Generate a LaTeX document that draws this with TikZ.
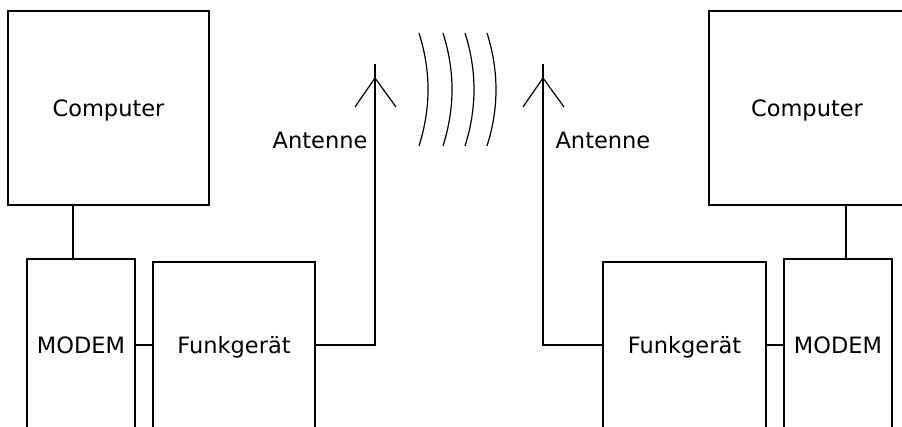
\documentclass[tikz,border=0pt]{standalone}
\usepackage{fontspec}
\setmainfont{DejaVu Sans}
\usepackage{tikz}
\usetikzlibrary{calc, positioning}

\begin{document}
\begin{tikzpicture}[x=1pt, y=1pt, line width=1.2pt, font=\fontsize{22.5}{27}\selectfont,
  unit/.style={draw, inner sep=0pt, text depth=0pt},
  antlabel/.style={inner sep=0pt}]
  \useasboundingbox (0,0) rectangle (902,426);
  \clip (0,0) rectangle (902,426);

  % Left station
  \node[unit, minimum width=201pt, minimum height=194pt] (compL) at (108.5, 318) {Computer};
  \node[unit, minimum width=108pt, minimum height=172pt] (modemL) at (81, 81) {MODEM};
  \node[unit, minimum width=162pt, minimum height=166pt] (funkL) at (234, 81) {Funkgerät};
  \coordinate (mastL) at (375, 362);
  \coordinate (tipL) at (375, 348);
  \coordinate (armL1) at ($(tipL)+(-20,-29)$);
  \coordinate (armL2) at ($(tipL)+(21,-29)$);
  \node[antlabel, anchor=east] (labL) at (368, 286) {Antenne};

  \draw ([xshift=-8pt]modemL.north) -- ([xshift=-8pt]modemL.north |- compL.south);
  \draw (modemL.east) -- (funkL.west);
  \draw (funkL.east) -| (mastL);
  \draw (armL1) -- (tipL) -- (armL2);

  % Right station
  \node[unit, minimum width=196pt, minimum height=194pt] (compR) at (807, 318) {Computer};
  \node[unit, minimum width=108pt, minimum height=172pt] (modemR) at (838, 81) {MODEM};
  \node[unit, minimum width=163pt, minimum height=166pt] (funkR) at (684.5, 81) {Funkgerät};
  \coordinate (mastR) at (543, 362);
  \coordinate (tipR) at (543, 348);
  \coordinate (armR1) at ($(tipR)+(-20,-29)$);
  \coordinate (armR2) at ($(tipR)+(21,-29)$);
  \node[antlabel, anchor=west] (labR) at (555, 286) {Antenne};

  \draw ([xshift=8pt]modemR.north) -- ([xshift=8pt]modemR.north |- compR.south);
  \draw (funkR.east) -- (modemR.west);
  \draw (funkR.west) -| (mastR);
  \draw (armR1) -- (tipR) -- (armR2);

  % Radio waves
  \foreach \x in {419, 443, 465, 487}
    \draw (\x, 393) .. controls (\x+12, 355) and (\x+12, 318) .. (\x, 280);
\end{tikzpicture}
\end{document}
